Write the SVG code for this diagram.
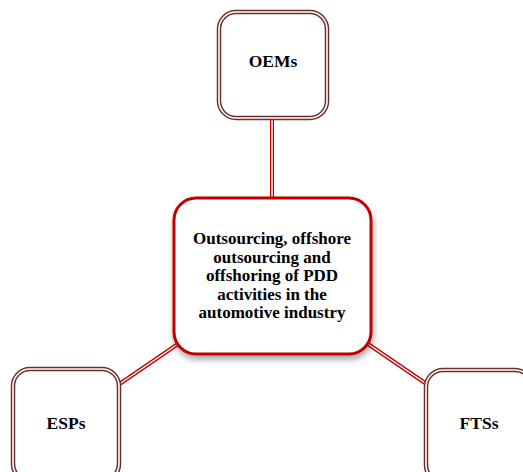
<svg xmlns="http://www.w3.org/2000/svg" width="523" height="472" viewBox="0 0 523 472">
  <defs>
    <style>
      .lbl { font-family: "Liberation Serif", "Times New Roman", serif; font-weight: bold; fill: #000; text-anchor: middle; font-size: 17.5px; }
      .body { font-size: 17px; }
      .outerBox { fill: #fff; stroke: #6e2c2c; stroke-width: 4.5; }
      .innerGap { fill: none; stroke: #fff; stroke-width: 1.6; }
      .linkOuter { stroke: #c00000; stroke-width: 4; fill: none; }
      .linkInner { stroke: #fff; stroke-width: 1.5; fill: none; }
    </style>
    <filter id="shadow" x="-20%" y="-20%" width="140%" height="140%">
      <feGaussianBlur in="SourceAlpha" stdDeviation="3"/>
      <feOffset dx="1" dy="4" result="b"/>
      <feComponentTransfer><feFuncA type="linear" slope="0.35"/></feComponentTransfer>
      <feMerge><feMergeNode/><feMergeNode in="SourceGraphic"/></feMerge>
    </filter>
  </defs>
  <rect width="523" height="472" fill="#fff"/>

  <!-- connectors -->
  <g id="connectors">
    <line class="linkOuter" x1="272" y1="118" x2="272" y2="199"/>
    <line class="linkInner" x1="272" y1="118" x2="272" y2="199"/>
    <line class="linkOuter" x1="118" y1="385" x2="178" y2="344"/>
    <line class="linkInner" x1="118" y1="385" x2="178" y2="344"/>
    <line class="linkOuter" x1="368" y1="344" x2="428" y2="385"/>
    <line class="linkInner" x1="368" y1="344" x2="428" y2="385"/>
  </g>

  <g id="oems">
    <rect class="outerBox" x="219" y="12" width="108" height="106" rx="17"/>
    <rect class="innerGap" x="219" y="12" width="108" height="106" rx="17"/>
    <text class="lbl" x="273" y="67">OEMs</text>
  </g>

  <g id="center">
    <rect x="174" y="198" width="197" height="156" rx="22" fill="#fff" stroke="#c00000" stroke-width="3" filter="url(#shadow)"/>
    <text class="lbl body" x="272" y="244">Outsourcing, offshore</text>
    <text class="lbl body" x="272" y="262.5">outsourcing and</text>
    <text class="lbl body" x="272" y="281">offshoring of PDD</text>
    <text class="lbl body" x="272" y="299.5">activities in the</text>
    <text class="lbl body" x="272" y="318">automotive industry</text>
  </g>

  <g id="esps">
    <rect class="outerBox" x="13" y="369" width="106" height="112" rx="17"/>
    <rect class="innerGap" x="13" y="369" width="106" height="112" rx="17"/>
    <text class="lbl" x="66" y="429">ESPs</text>
  </g>

  <g id="ftss">
    <rect class="outerBox" x="426" y="370" width="106" height="112" rx="17"/>
    <rect class="innerGap" x="426" y="370" width="106" height="112" rx="17"/>
    <text class="lbl" x="479" y="429">FTSs</text>
  </g>
</svg>
